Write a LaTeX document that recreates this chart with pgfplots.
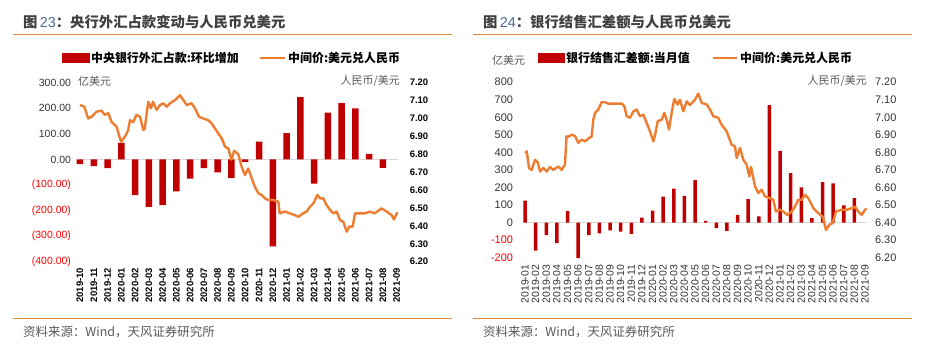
\documentclass[border=0pt]{standalone}
\usepackage{pgfplots}
\pgfplotsset{compat=1.18}
\usepackage{fontspec}
\setmainfont{Liberation Sans}
\newfontfamily\cjk{Noto Sans CJK SC}
\definecolor{cRed}{HTML}{C00000}
\definecolor{cOrange}{HTML}{ED7D31}
\definecolor{cGrid}{HTML}{D9D9D9}
\definecolor{cText}{HTML}{333333}
\definecolor{cTitle}{HTML}{404040}
\definecolor{cSrc}{HTML}{595959}
\definecolor{cBlue}{HTML}{4A6A96}
\definecolor{cNeg}{HTML}{FF0000}
\definecolor{cRule}{HTML}{E38A3C}
\newcommand\fs[1]{\fontsize{#1}{#1}\selectfont}
\pgfplotsset{
  base/.style={scale only axis, anchor=south west, axis line style={draw=none},
    major tick length=0pt, tick style={draw=none},
    /pgf/number format/assume math mode=true, clip=false},
}
\begin{document}
\begin{tikzpicture}
\begin{scope}[x=1bp,y=1bp]
\fill[white] (0,0) rectangle (931,346);
\useasboundingbox (0,0) rectangle (931,346);
% ---------- titles, rules, sources
\node[anchor=west, text=cTitle, font=\fs{14.4}, inner sep=0pt] at (23,324)
  {{\cjk\bfseries 图}\,{\color{cBlue}23}{\cjk\bfseries ：央行外汇占款变动与人民币兑美元}};
\node[anchor=west, text=cTitle, font=\fs{14.4}, inner sep=0pt] at (483,324)
  {{\cjk\bfseries 图}\,{\color{cBlue}24}{\cjk\bfseries ：银行结售汇差额与人民币兑美元}};
\draw[cRule, line width=1bp] (13,311) -- (452,311);
\draw[cRule, line width=1bp] (473,311) -- (912,311);
\draw[cRule, line width=1bp] (13,28) -- (452,28);
\draw[cRule, line width=1bp] (473,28) -- (912,28);
\node[anchor=west, text=cSrc, font=\cjk\fs{12.5}, inner sep=0pt] at (23,14.3) {资料来源：Wind，天风证券研究所};
\node[anchor=west, text=cSrc, font=\cjk\fs{12.5}, inner sep=0pt] at (483,14.3) {资料来源：Wind，天风证券研究所};
% unit labels
\node[anchor=west, text=cSrc, font=\cjk\fs{11}, inner sep=0pt] at (78,264.3) {亿美元};
\node[anchor=east, text=cSrc, font=\cjk\fs{11}, inner sep=0pt] at (400,264.7) {人民币/美元};
\node[anchor=west, text=cSrc, font=\cjk\fs{11}, inner sep=0pt] at (492,286) {亿美元};
\node[anchor=east, text=cSrc, font=\cjk\fs{11}, inner sep=0pt] at (867,264.7) {人民币/美元};
\end{scope}

% ================= LEFT PANEL =================
\begin{axis}[base, at={(73.1bp,84.3bp)}, width=330.5bp, height=179bp,
  xmin=-0.5, xmax=23.5, ymin=-400, ymax=300,
  ytick={-400,-300,-200,-100,0,100,200,300},
  yticklabels={{\color{cNeg}(400.00)},{\color{cNeg}(300.00)},{\color{cNeg}(200.00)},{\color{cNeg}(100.00)},0.00,100.00,200.00,300.00},
  yticklabel style={font=\fs{10.5}, text=cText, anchor=east, inner sep=0pt},
  yticklabel shift=2bp,
  xtick={0,...,23},
  xticklabels={2019-10,2019-11,2019-12,2020-01,2020-02,2020-03,2020-04,2020-05,2020-06,2020-07,2020-08,2020-09,2020-10,2020-11,2020-12,2021-01,2021-02,2021-03,2021-04,2021-05,2021-06,2021-07,2021-08,2021-09},
  xticklabel style={font=\fs{9.5}\bfseries, text=black, rotate=90, anchor=east, inner sep=0pt},
  xticklabel shift=6bp]
\addplot[cGrid, line width=1.5bp] coordinates {(0,0) (23.1,0)};
\addplot[ybar, bar width=6.5bp, fill=cRed, draw=none] coordinates {
(0,-18) (1,-26) (2,-34) (3,65) (4,-140) (5,-186) (6,-179) (7,-125) (8,-75) (9,-34)
(10,-51) (11,-73) (12,-10) (13,70) (14,-340) (15,103) (16,244) (17,-95) (18,183)
(19,220) (20,200) (21,22) (22,-33)};
\end{axis}
\begin{axis}[base, at={(73.1bp,84.3bp)}, width=330.5bp, height=179bp,
  xmin=-0.5, xmax=23.5, ymin=6.2, ymax=7.2, xtick=\empty,
  ytick={6.2,6.3,6.4,6.5,6.6,6.7,6.8,6.9,7.0,7.1,7.2},
  yticklabel pos=right,
  yticklabel style={font=\fs{9.5}\bfseries, text=black, anchor=west, inner sep=0pt,
    /pgf/number format/fixed, /pgf/number format/fixed zerofill, /pgf/number format/precision=2},
  yticklabel shift=6bp,
  legend style={at={(-0.035,1.138)}, anchor=west, draw=none, fill=none, inner sep=0pt,
    font=\cjk\bfseries\fs{12}, legend columns=2, legend cell align=left,
    /tikz/every even column/.append style={column sep=18bp}}]
\addlegendimage{legend image code/.code={\fill[cRed] (0bp,-4.5bp) rectangle (27bp,4.5bp);}}
\addlegendentry{中央银行外汇占款:环比增加}
\addplot[cOrange, line width=2.4bp, line join=round,
  legend image code/.code={\draw[cOrange, line width=2.4bp] (0bp,0bp) -- (25bp,0bp);}] coordinates {
(0,7.075) (0.31,7.066) (0.6,7.0) (0.85,7.01) (1.2,7.038) (1.56,7.044) (1.8,7.02) (2.05,7.03)
(2.3,6.98) (2.66,6.954) (2.9,6.89) (3.0,6.87) (3.27,6.90) (3.5,6.935) (3.63,6.99) (3.87,6.98)
(4.1,7.02) (4.36,7.01) (4.6,6.935) (4.7,6.945) (4.96,7.094) (5.16,7.057) (5.3,7.094) (5.57,7.048)
(5.81,7.075) (6.05,7.085) (6.3,7.066) (6.54,7.085) (6.9,7.103) (7.26,7.13) (7.5,7.103) (7.75,7.075)
(8.1,7.085) (8.35,7.057) (8.64,7.01) (8.95,7.0) (9.32,6.99) (9.56,6.973) (9.8,6.945) (10.04,6.917)
(10.29,6.89) (10.53,6.843) (10.77,6.833) (11.0,6.77) (11.2,6.82) (11.5,6.80) (11.74,6.73)
(11.98,6.684) (12.22,6.72) (12.47,6.666) (12.7,6.619) (12.95,6.582) (13.2,6.573) (13.43,6.554)
(13.67,6.545) (14.03,6.545) (14.4,6.535) (14.5,6.47) (14.88,6.48) (15.25,6.47) (15.6,6.46)
(15.86,6.451) (16.2,6.47) (16.46,6.48) (16.7,6.507) (16.95,6.526) (17.24,6.573) (17.43,6.554)
(17.67,6.554) (17.9,6.517) (18.15,6.49) (18.4,6.47) (18.64,6.48) (18.88,6.433) (19.12,6.423)
(19.37,6.368) (19.56,6.396) (19.8,6.396) (19.97,6.47) (20.33,6.47) (20.7,6.47) (21.06,6.48)
(21.4,6.47) (21.9,6.498) (22.27,6.48) (22.63,6.46) (22.8,6.436) (23.0,6.47) (23.1,6.47)};
\addlegendentry{中间价:美元兑人民币}
\end{axis}

% ================= RIGHT PANEL =================
\begin{axis}[base, at={(519.7bp,88.3bp)}, width=350.6bp, height=175.5bp,
  xmin=-0.5, xmax=32.5, ymin=-200, ymax=800,
  ytick={-200,-100,0,100,200,300,400,500,600,700,800},
  yticklabels={{\color{cNeg}-200},{\color{cNeg}-100},0,100,200,300,400,500,600,700,800},
  yticklabel style={font=\fs{11}, text=cText, anchor=east, inner sep=0pt},
  yticklabel shift=6.5bp,
  xtick={0,...,32},
  xticklabels={2019-01,2019-02,2019-03,2019-04,2019-05,2019-06,2019-07,2019-08,2019-09,2019-10,2019-11,2019-12,2020-01,2020-02,2020-03,2020-04,2020-05,2020-06,2020-07,2020-08,2020-09,2020-10,2020-11,2020-12,2021-01,2021-02,2021-03,2021-04,2021-05,2021-06,2021-07,2021-08,2021-09},
  xticklabel style={font=\fs{10.5}, text=cText, rotate=90, anchor=east, inner sep=0pt},
  xticklabel shift=7bp]
\addplot[cGrid, line width=1.5bp] coordinates {(0,0) (32.16,0)};
\addplot[ybar, bar width=3.5bp, fill=cRed, draw=none] coordinates {
(0,125) (1,-159) (2,-72) (3,-117) (4,66) (5,-203) (6,-72) (7,-61) (8,-45) (9,-51)
(10,-64) (11,28) (12,68) (13,148) (14,193) (15,152) (16,242) (17,10) (18,-32) (19,-47)
(20,44) (21,134) (22,36) (23,669) (24,409) (25,282) (26,201) (27,25) (28,231) (29,223)
(30,98) (31,140)};
\end{axis}
\begin{axis}[base, at={(519.7bp,88.3bp)}, width=350.6bp, height=175.5bp,
  xmin=-0.5, xmax=32.5, ymin=6.2, ymax=7.2, xtick=\empty,
  ytick={6.2,6.3,6.4,6.5,6.6,6.7,6.8,6.9,7.0,7.1,7.2},
  yticklabel pos=right,
  yticklabel style={font=\fs{11}, text=cText, anchor=west, inner sep=0pt,
    /pgf/number format/fixed, /pgf/number format/fixed zerofill, /pgf/number format/precision=2},
  yticklabel shift=4.5bp,
  legend style={at={(0.0508,1.138)}, anchor=west, draw=none, fill=none, inner sep=0pt,
    font=\cjk\bfseries\fs{12}, legend columns=2, legend cell align=left,
    /tikz/every even column/.append style={column sep=20bp}}]
\addlegendimage{legend image code/.code={\fill[cRed] (0bp,-4.5bp) rectangle (26bp,4.5bp);}}
\addlegendentry{银行结售汇差额:当月值}
\addplot[cOrange, line width=2.4bp, line join=round,
  legend image code/.code={\draw[cOrange, line width=2.4bp] (0bp,0bp) -- (24bp,0bp);}] coordinates {
(0,6.797) (0.16,6.806) (0.38,6.711) (0.63,6.70) (0.94,6.758) (1.2,6.743) (1.41,6.691) (1.73,6.711)
(2.04,6.691) (2.35,6.717) (2.67,6.70) (3.13,6.72) (3.45,6.70) (3.76,6.73) (3.9,6.891) (4.1,6.89)
(4.35,6.90) (4.7,6.895) (5.02,6.854) (5.33,6.873) (5.65,6.863) (6.02,6.882) (6.27,6.891) (6.43,6.987)
(6.59,7.025) (6.9,7.044) (7.2,7.086) (7.53,7.086) (7.84,7.078) (8.47,7.078) (9.1,7.078) (9.35,7.063)
(9.57,7.006) (9.88,6.997) (10.2,7.034) (10.5,7.044) (10.82,7.006) (11.14,7.015) (11.45,6.968)
(11.76,6.92) (12.08,6.863) (12.24,6.90) (12.49,6.977) (12.87,6.987) (13.11,7.025) (13.33,6.987)
(13.55,6.93) (13.8,7.025) (14.05,7.105) (14.37,7.073) (14.58,7.10) (14.9,7.034) (15.22,7.091)
(15.53,7.07) (16.0,7.10) (16.16,7.12) (16.31,7.135) (16.63,7.082) (17.1,7.073) (17.41,7.044)
(17.72,7.006) (18.2,6.997) (18.5,6.958) (18.98,6.92) (19.45,6.844) (19.76,6.834) (19.92,6.768)
(20.23,6.825) (20.55,6.758) (20.86,6.73) (21.11,6.663) (21.27,6.717) (21.65,6.606) (21.96,6.568)
(22.27,6.587) (22.59,6.549) (23.06,6.539) (23.37,6.53) (23.62,6.463) (24.0,6.473) (24.31,6.463)
(24.69,6.444) (25.1,6.463) (25.41,6.491) (25.72,6.53) (26.04,6.53) (26.35,6.558) (26.67,6.539)
(27.14,6.482) (27.6,6.454) (28.02,6.434) (28.33,6.358) (28.64,6.387) (28.96,6.397) (29.27,6.463)
(29.8,6.473) (30.27,6.473) (30.75,6.482) (31.06,6.491) (31.37,6.463) (31.69,6.444) (32.0,6.473)
(32.16,6.48)};
\addlegendentry{中间价:美元兑人民币}
\end{axis}
\end{tikzpicture}
\end{document}
